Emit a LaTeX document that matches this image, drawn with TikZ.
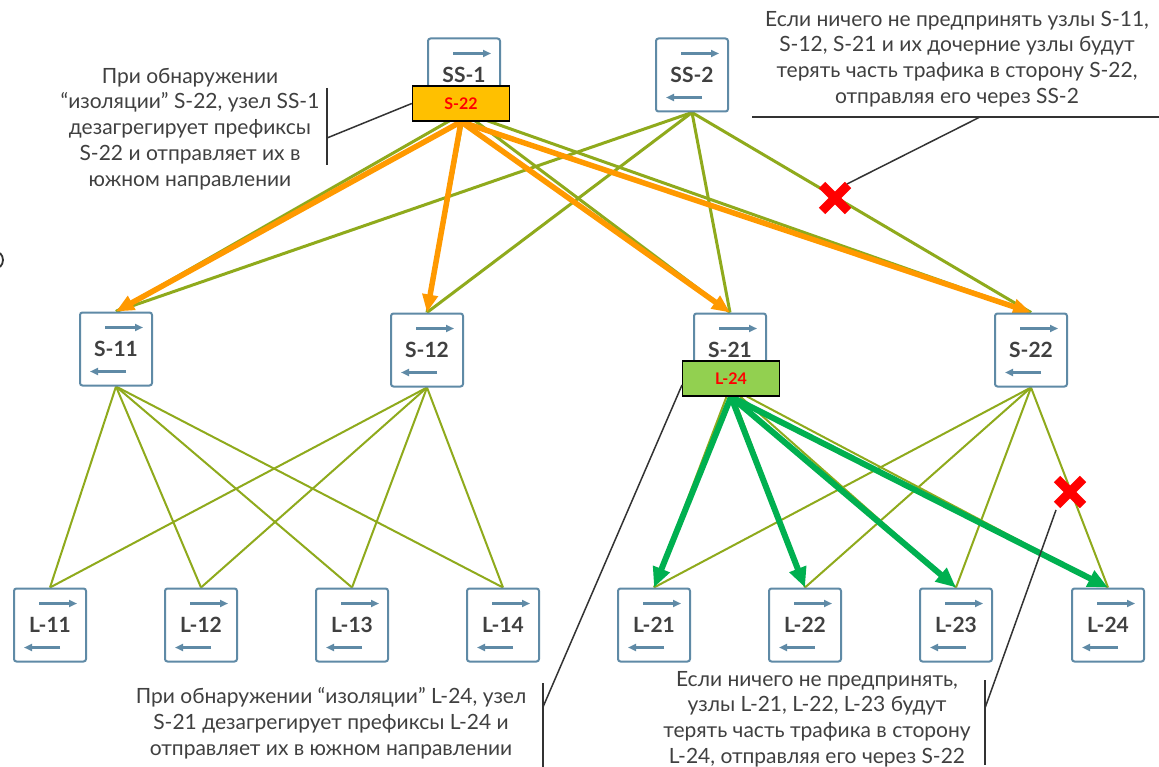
\documentclass[tikz,border=0pt]{standalone}
\usepackage{fontspec}
\setmainfont{Lato}
\usetikzlibrary{arrows.meta}
\definecolor{boxblue}{HTML}{5F8AA6}
\definecolor{linkolive}{HTML}{8FAA1C}
\definecolor{arrorange}{HTML}{FF9900}
\definecolor{arrgreen}{HTML}{00B050}
\definecolor{tagyellow}{HTML}{FFC000}
\definecolor{taggreen}{HTML}{92D050}
\definecolor{txtgray}{HTML}{404040}
\definecolor{calloutgray}{HTML}{333333}
\pgfdeclarelayer{bg}
\pgfsetlayers{bg,main}
\tikzset{
  sw/.style={draw=boxblue, line width=2pt, rounded corners=2.5pt, fill=white,
    minimum width=72pt, minimum height=73pt, inner sep=0pt, text=txtgray,
    font=\bfseries\fontsize{21}{21}\selectfont,
    path picture={
      \draw[boxblue, line width=2.2pt, -{Triangle[length=8pt,width=7pt]}]
        ([xshift=25pt,yshift=-15pt]path picture bounding box.north west) -- ++(38,0);
      \draw[boxblue, line width=2.2pt, -{Triangle[length=8pt,width=7pt]}]
        ([xshift=46pt,yshift=14pt]path picture bounding box.south west) -- ++(-36,0);
    }},
  tag/.style={draw=black, line width=1.5pt, minimum width=97pt, minimum height=35pt,
    inner sep=0pt, text=red, font=\bfseries\fontsize{16}{16}\selectfont},
  uplink/.style={linkolive, line width=3pt},
  downlink/.style={linkolive, line width=2pt},
  orangearrow/.style={arrorange, line width=5.5pt, -{Triangle[length=18pt,width=15pt]}},
  greenarrow/.style={arrgreen, line width=6pt, -{Triangle[length=20pt,width=17pt]}},
  callout/.style={calloutgray, line width=1.5pt},
  crossmark/.style={red, line width=9pt},
  note/.style={align=center, text=txtgray, font=\fontsize{21}{25.8}\selectfont, inner sep=0pt}
}
\begin{document}
\begin{tikzpicture}[x=1pt,y=-1pt]
\useasboundingbox (0,0) rectangle (1159,767);

% switches
\node[sw] (ss1) at (464,75) {SS-1};
\node[sw] (ss2) at (692,75) {SS-2};
\node[sw] (s11) at (116,349) {S-11};
\node[sw] (s12) at (427,350) {S-12};
\node[sw] (s21) at (730,350) {S-21};
\node[sw] (s22) at (1031,350) {S-22};
\node[sw] (l11) at (50,625) {L-11};
\node[sw] (l12) at (201,625) {L-12};
\node[sw] (l13) at (352,625) {L-13};
\node[sw] (l14) at (503,625) {L-14};
\node[sw] (l21) at (654,625) {L-21};
\node[sw] (l22) at (805,625) {L-22};
\node[sw] (l23) at (956,625) {L-23};
\node[sw] (l24) at (1108,625) {L-24};

% disaggregation tags
\node[tag, fill=tagyellow] (t1) at (461,103.5) {S-22};
\node[tag, fill=taggreen] (t2) at (731,378.5) {L-24};

\begin{pgfonlayer}{bg}
  \fill[white] (0,0) rectangle (1159,767);
  % superspine to spine links
  \foreach \s in {s11,s12,s21,s22} {
    \draw[uplink] (ss1.south) -- (\s.north);
    \draw[uplink] (ss2.south) -- (\s.north);
  }
  % spine to leaf links
  \foreach \s in {s11,s12} \foreach \l in {l11,l12,l13,l14}
    \draw[downlink] (\s.south) -- (\l.north);
  \foreach \s in {s21,s22} \foreach \l in {l21,l22,l23,l24}
    \draw[downlink] (\s.south) -- (\l.north);
  % disaggregated prefixes sent south
  \foreach \s in {s11,s12,s21,s22}
    \draw[orangearrow] (t1.south) -- (\s.north);
  \foreach \l in {l21,l22,l23,l24}
    \draw[greenarrow] (t2.south) -- (\l.north);
\end{pgfonlayer}

% failed paths
\coordinate (x1) at (835,198);
\coordinate (x2) at (1070,492);
\foreach \c in {x1,x2} {
  \draw[crossmark] ([shift={(-13,-13)}]\c) -- ([shift={(13,13)}]\c);
  \draw[crossmark] ([shift={(-13,13)}]\c) -- ([shift={(13,-13)}]\c);
}

% notes
\node[note] (n1) at (190,129) {При обнаружении\\“изоляции” S-22, узел SS-1\\дезагрегирует префиксы\\S-22 и отправляет их в\\южном направлении};
\node[note] (n2) at (957,59) {Если ничего не предпринять узлы S-11,\\S-12, S-21 и их дочерние узлы будут\\терять часть трафика в сторону S-22,\\отправляя его через SS-2};
\node[note] (n3) at (331,723) {При обнаружении “изоляции” L-24, узел\\S-21 дезагрегирует префиксы L-24 и\\отправляет их в южном направлении};
\node[note] (n4) at (817,719) {Если ничего не предпринять,\\узлы L-21, L-22, L-23 будут\\терять часть трафика в сторону\\L-24, отправляя его через S-22};

% callouts
\coordinate (c1a) at (327,88);
\coordinate (c1b) at (327,165);
\coordinate (c1c) at (327,138);
\draw[callout] (c1a) -- (c1b);
\draw[callout] (c1c) -- (t1.west);

\coordinate (c2a) at (752,117);
\coordinate (c2b) at (1159,117);
\coordinate (c2c) at (980,117);
\coordinate (c2d) at (847,184);
\draw[callout] (c2a) -- (c2b);
\draw[callout] (c2c) -- (c2d);

\coordinate (c3a) at (543,683);
\coordinate (c3b) at (543,767);
\coordinate (c3c) at (543,707);
\coordinate (c3d) at (682,385);
\draw[callout] (c3a) -- (c3b);
\draw[callout] (c3c) -- (c3d);

\coordinate (c4a) at (985,680);
\coordinate (c4b) at (985,765);
\coordinate (c4c) at (985,708);
\coordinate (c4d) at (1056,510);
\draw[callout] (c4a) -- (c4b);
\draw[callout] (c4c) -- (c4d);

% small glyph fragment at the left edge
\draw[calloutgray, line width=1.8pt] (0,253) .. controls (4,257) and (4,263) .. (0,267);
\end{tikzpicture}
\end{document}
